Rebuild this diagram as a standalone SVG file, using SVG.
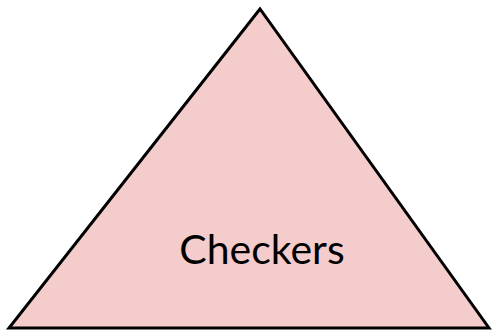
<svg xmlns="http://www.w3.org/2000/svg" width="498" height="336" viewBox="0 0 498 336">
<style>
.shape{fill:#f4cccc;stroke:#000;stroke-width:3;stroke-linejoin:miter}
.label{font-family:Lato,"Liberation Sans",sans-serif;font-size:41px;fill:#000;text-anchor:middle}
</style>
<rect width="498" height="336" fill="#fff"/>
<g id="checkers">
<polygon class="shape" points="260,9 9,328 489,328"/>
<text class="label" x="262" y="264">Checkers</text>
</g>
</svg>
